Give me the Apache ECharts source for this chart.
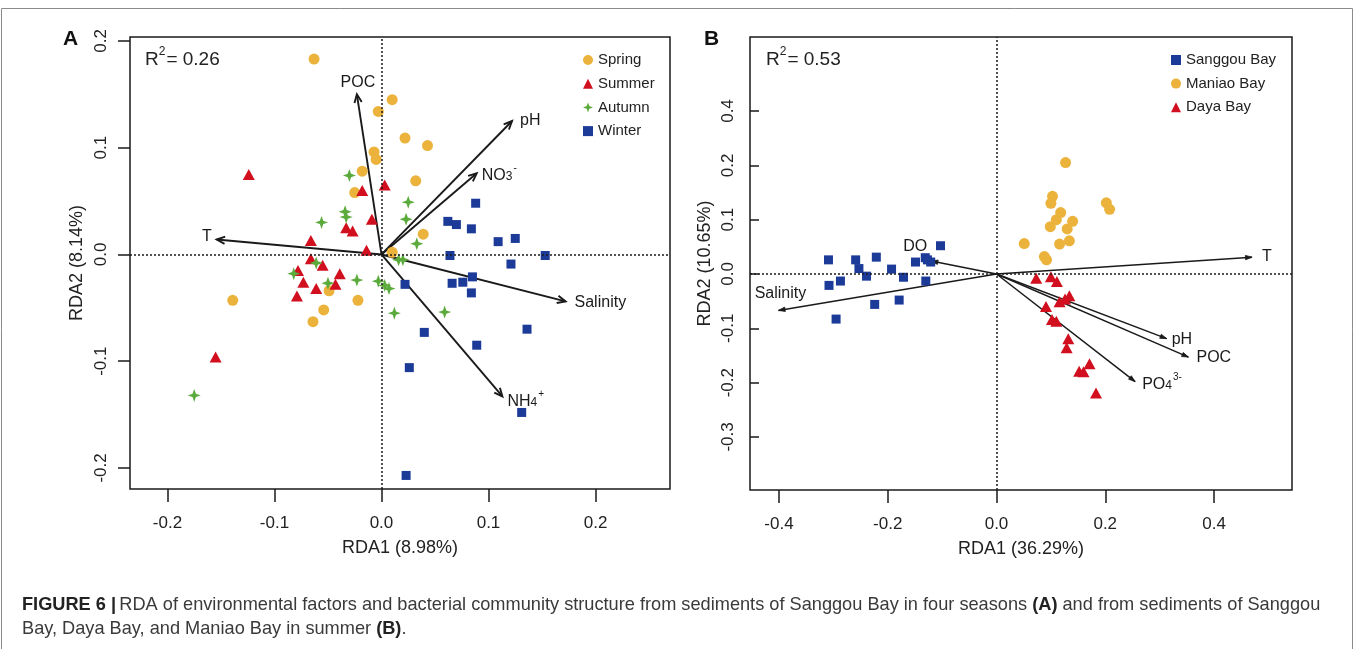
<!DOCTYPE html>
<html>
<head>
<meta charset="utf-8">
<script src="https://cdn.jsdelivr.net/npm/echarts/dist/echarts.min.js"></script>
<style>
  html, body { margin: 0; padding: 0; background: #fff; }
  #main { width: 1355px; height: 649px; }
</style>
</head>
<body>
<div id="main"></div>
<script>
// ---------------- Panel A data (Sanggou Bay, four seasons) ----------------
const springX = [-0.063, -0.003, 0.010, -0.007, -0.005, -0.018, -0.025, 0.022, 0.043, 0.032, 0.039, 0.010, -0.139, -0.049, -0.022, -0.054, -0.064];
const springY = [0.183, 0.134, 0.145, 0.096, 0.089, 0.078, 0.058, 0.109, 0.102, 0.069, 0.019, 0.002, -0.043, -0.034, -0.043, -0.052, -0.063];

const summerX = [-0.124, 0.003, -0.018, -0.009, -0.033, -0.027, -0.066, -0.014, -0.066, -0.078, -0.055, -0.039, -0.073, -0.061, -0.043, -0.079, -0.155];
const summerY = [0.075, 0.065, 0.060, 0.033, 0.025, 0.022, 0.013, 0.004, -0.004, -0.015, -0.010, -0.018, -0.026, -0.032, -0.028, -0.039, -0.096];

const autumnX = [-0.030, -0.034, -0.033, -0.056, 0.025, 0.023, 0.033, 0.016, 0.020, -0.082, -0.061, -0.050, -0.023, -0.003, 0.003, 0.007, 0.012, -0.175, 0.059];
const autumnY = [0.074, 0.040, 0.035, 0.030, 0.049, 0.033, 0.010, -0.005, -0.005, -0.018, -0.008, -0.027, -0.024, -0.025, -0.029, -0.032, -0.055, -0.132, -0.054];

const winterX = [0.088, 0.062, 0.070, 0.084, 0.109, 0.125, 0.064, 0.153, 0.121, 0.085, 0.066, 0.076, 0.084, 0.022, 0.136, 0.040, 0.089, 0.026, 0.131, 0.023];
const winterY = [0.048, 0.031, 0.028, 0.024, 0.012, 0.015, -0.001, -0.001, -0.009, -0.021, -0.027, -0.026, -0.036, -0.028, -0.070, -0.073, -0.085, -0.106, -0.148, -0.207];

const A_vecNames = ['POC', 'T', 'pH', 'NO3', 'Salinity', 'NH4'];
const A_vecX = [-0.023, -0.154, 0.122, 0.089, 0.172, 0.113];
const A_vecY = [0.150, 0.014, 0.125, 0.076, -0.044, -0.133];

const A_xTicks = [-0.2, -0.1, 0, 0.1, 0.2];
const A_yTicks = [-0.2, -0.1, 0, 0.1, 0.2];

// ---------------- Panel B data (three bays, summer) ----------------
const sanggouX = [-0.309, -0.259, -0.221, -0.253, -0.239, -0.193, -0.171, -0.149, -0.131, -0.121, -0.103, -0.130, -0.308, -0.287, -0.224, -0.179, -0.295, -0.127];
const sanggouY = [0.026, 0.026, 0.031, 0.010, -0.004, 0.009, -0.006, 0.022, 0.030, 0.022, 0.052, -0.013, -0.021, -0.013, -0.056, -0.048, -0.083, 0.026];

const maniaoX = [0.127, 0.103, 0.100, 0.118, 0.110, 0.140, 0.099, 0.130, 0.134, 0.116, 0.051, 0.202, 0.208, 0.088, 0.092];
const maniaoY = [0.205, 0.143, 0.130, 0.113, 0.100, 0.097, 0.087, 0.083, 0.061, 0.055, 0.056, 0.131, 0.119, 0.032, 0.026];

const dayaX = [0.073, 0.100, 0.111, 0.134, 0.126, 0.116, 0.091, 0.102, 0.110, 0.132, 0.129, 0.171, 0.152, 0.160, 0.183];
const dayaY = [-0.008, -0.005, -0.014, -0.040, -0.046, -0.051, -0.060, -0.084, -0.087, -0.119, -0.136, -0.165, -0.179, -0.180, -0.219];

const B_vecNames = ['DO', 'T', 'Salinity', 'pH', 'POC', 'PO4'];
const B_vecX = [-0.120, 0.470, -0.401, 0.313, 0.353, 0.255];
const B_vecY = [0.024, 0.031, -0.067, -0.119, -0.153, -0.198];

const B_xTicks = [-0.4, -0.2, 0, 0.2, 0.4];
const B_yTicks = [-0.3, -0.2, -0.1, 0, 0.1, 0.2, 0.3];
const B_yTickLabels = ['-0.3', '-0.2', '-0.1', '0.0', '0.1', '0.2', '0.4'];

// ---------------- styling ----------------
const FONT = "'Liberation Sans', Arial, Helvetica, sans-serif";
const C_ORANGE = '#EBB33C', C_RED = '#D10F1E', C_GREEN = '#5BAA3C', C_BLUE = '#1C3B98';
const INK = '#1a1a1a';
const STAR = 'path://M50,0 L63,37 L100,50 L63,63 L50,100 L37,63 L0,50 L37,37 Z';

const vecText = {
  NO3: '{n|NO}{sub|3}{sup|-}',
  NH4: '{n|NH}{sub|4}{sup|+}',
  PO4: '{n|PO}{sub|4}{sup|3-}'
};
const vecRich = {
  n: { fontSize: 16, fontFamily: FONT, fill: INK, lineHeight: 22, verticalAlign: 'bottom' },
  sub: { fontSize: 12, fontFamily: FONT, fill: INK, lineHeight: 22, verticalAlign: 'bottom', padding: [0, 0, 1, 0] },
  sup: { fontSize: 10, fontFamily: FONT, fill: INK, lineHeight: 22, verticalAlign: 'top', padding: [2, 0, 0, 1] }
};
const labelPosA = {
  POC: { dx: 1, dy: -12, align: 'center' },
  T: { dx: -5, dy: -3, align: 'right' },
  pH: { dx: 8, dy: 0, align: 'left' },
  NO3: { dx: 5, dy: -1, align: 'left' },
  Salinity: { dx: 9, dy: 1, align: 'left' },
  NH4: { dx: 5, dy: 2, align: 'left' }
};
const labelPosB = {
  DO: { dx: -4, dy: -14, align: 'right' },
  T: { dx: 10, dy: -1, align: 'left' },
  Salinity: { dx: 2, dy: -17, align: 'center' },
  pH: { dx: 5, dy: 1, align: 'left' },
  POC: { dx: 8, dy: 0, align: 'left' },
  PO4: { dx: 7, dy: 0, align: 'left' }
};

function arrowRenderer(names, pos, head) {
  return function (params, api) {
    const name = names[params.dataIndex];
    const o = api.coord([0, 0]);
    const t = api.coord([api.value(0), api.value(1)]);
    const ang = Math.atan2(t[1] - o[1], t[0] - o[0]);
    const L = head.len, a = head.angle;
    const p1 = [t[0] - L * Math.cos(ang - a), t[1] - L * Math.sin(ang - a)];
    const p2 = [t[0] - L * Math.cos(ang + a), t[1] - L * Math.sin(ang + a)];
    const c = pos[name];
    const headEl = head.filled
      ? { type: 'polygon', shape: { points: [p1, t, p2] }, style: { fill: INK, stroke: INK, lineWidth: 0.8 } }
      : { type: 'polyline', shape: { points: [p1, t, p2] }, style: { stroke: INK, lineWidth: head.lw, fill: null } };
    return {
      type: 'group',
      children: [
        { type: 'line', shape: { x1: o[0], y1: o[1], x2: t[0], y2: t[1] }, style: { stroke: INK, lineWidth: head.lw } },
        headEl,
        {
          type: 'text', x: t[0] + c.dx, y: t[1] + c.dy,
          style: {
            text: vecText[name] || name, rich: vecRich,
            fill: INK, fontSize: 16, fontFamily: FONT,
            align: c.align, verticalAlign: 'middle'
          }
        }
      ]
    };
  };
}

function pairs(xs, ys) { return xs.map((x, i) => [x, ys[i]]); }
function fmt(v) { return Math.abs(v) < 1e-9 ? '0.0' : v.toFixed(1); }

const zeroLines = {
  silent: true, symbol: ['none', 'none'], label: { show: false },
  lineStyle: { type: [2, 2], color: INK, width: 1.5 },
  emphasis: { disabled: true },
  data: [{ xAxis: 0 }, { yAxis: 0 }]
};

function xAxisCfg(idx, min, max, ticks, name) {
  return {
    gridIndex: idx, type: 'value', min: min, max: max, position: 'bottom',
    axisLine: { show: false, onZero: false }, splitLine: { show: false },
    axisTick: { show: true, customValues: ticks, length: 13, lineStyle: { color: INK, width: 1.5 } },
    axisLabel: { customValues: ticks, formatter: fmt, fontSize: 17, color: '#222', fontFamily: FONT, margin: 26 },
    name: name, nameLocation: 'middle', nameGap: 50,
    nameTextStyle: { fontSize: 18, color: '#222', fontFamily: FONT }
  };
}

const chart = echarts.init(document.getElementById('main'), null, { renderer: 'canvas' });

const option = {
  animation: false,
  backgroundColor: '#fff',
  textStyle: { fontFamily: FONT },
  grid: [
    { left: 130, top: 37, width: 540, height: 452, show: true, borderColor: INK, borderWidth: 1.5, backgroundColor: 'transparent' },
    { left: 750, top: 37, width: 542, height: 453, show: true, borderColor: INK, borderWidth: 1.5, backgroundColor: 'transparent' }
  ],
  xAxis: [
    xAxisCfg(0, -0.235, 0.2696, A_xTicks, 'RDA1 (8.98%)'),
    xAxisCfg(1, -0.4533, 0.5434, B_xTicks, 'RDA1 (36.29%)')
  ],
  yAxis: [
    {
      gridIndex: 0, type: 'value', min: -0.2197, max: 0.2037, position: 'left',
      axisLine: { show: false, onZero: false }, splitLine: { show: false },
      axisTick: { show: true, customValues: A_yTicks, length: 12, lineStyle: { color: INK, width: 1.5 } },
      axisLabel: { customValues: A_yTicks, formatter: fmt, rotate: 90, fontSize: 17, color: '#222', fontFamily: FONT, margin: 20 },
      name: 'RDA2 (8.14%)', nameLocation: 'middle', nameRotate: 90, nameGap: 44,
      nameTextStyle: { fontSize: 18, color: '#222', fontFamily: FONT }
    },
    {
      gridIndex: 1, type: 'value', min: -0.3976, max: 0.4362, position: 'left',
      axisLine: { show: false, onZero: false }, splitLine: { show: false },
      axisTick: { show: true, inside: true, customValues: B_yTicks, length: 9, lineStyle: { color: INK, width: 1.5 } },
      axisLabel: {
        customValues: B_yTicks, rotate: 90, fontSize: 17, color: '#222', fontFamily: FONT, margin: 13,
        formatter: function (v) {
          const i = B_yTicks.findIndex(t => Math.abs(t - v) < 1e-9);
          return i >= 0 ? B_yTickLabels[i] : '';
        }
      },
      name: 'RDA2 (10.65%)', nameLocation: 'middle', nameRotate: 90, nameGap: 36,
      nameTextStyle: { fontSize: 18, color: '#222', fontFamily: FONT }
    }
  ],
  legend: [
    {
      data: ['Spring', 'Summer', 'Autumn', 'Winter'], orient: 'vertical', left: 578, top: 47,
      itemWidth: 10, itemHeight: 10, itemGap: 7.7, selectedMode: false,
      textStyle: { fontSize: 15, color: '#222', fontFamily: FONT, lineHeight: 16 }
    },
    {
      data: ['Sanggou Bay', 'Maniao Bay', 'Daya Bay'], orient: 'vertical', left: 1166, top: 47,
      itemWidth: 10, itemHeight: 10, itemGap: 7.6, selectedMode: false,
      textStyle: { fontSize: 15, color: '#222', fontFamily: FONT, lineHeight: 16 }
    }
  ],
  series: [
    {
      type: 'custom', name: 'vecA', xAxisIndex: 0, yAxisIndex: 0, z: 2, silent: true,
      renderItem: arrowRenderer(A_vecNames, labelPosA, { len: 9, angle: 0.42, lw: 1.9, filled: false }),
      encode: { x: 0, y: 1 },
      data: A_vecX.map((x, i) => [x, A_vecY[i]]),
      markLine: zeroLines
    },
    {
      type: 'custom', name: 'vecB', xAxisIndex: 1, yAxisIndex: 1, z: 2, silent: true,
      renderItem: arrowRenderer(B_vecNames, labelPosB, { len: 7, angle: 0.32, lw: 1.5, filled: true }),
      encode: { x: 0, y: 1 },
      data: B_vecX.map((x, i) => [x, B_vecY[i]]),
      markLine: zeroLines
    },
    { type: 'scatter', name: 'Spring', xAxisIndex: 0, yAxisIndex: 0, z: 4, symbol: 'circle', symbolSize: 11, itemStyle: { color: C_ORANGE, opacity: 1 }, data: pairs(springX, springY) },
    { type: 'scatter', name: 'Summer', xAxisIndex: 0, yAxisIndex: 0, z: 4, symbol: 'triangle', symbolSize: [12, 11], itemStyle: { color: C_RED, opacity: 1 }, data: pairs(summerX, summerY) },
    { type: 'scatter', name: 'Autumn', xAxisIndex: 0, yAxisIndex: 0, z: 4, symbol: STAR, symbolSize: 13, itemStyle: { color: C_GREEN, opacity: 1 }, data: pairs(autumnX, autumnY) },
    { type: 'scatter', name: 'Winter', xAxisIndex: 0, yAxisIndex: 0, z: 4, symbol: 'rect', symbolSize: 9, itemStyle: { color: C_BLUE, opacity: 1 }, data: pairs(winterX, winterY) },
    { type: 'scatter', name: 'Sanggou Bay', xAxisIndex: 1, yAxisIndex: 1, z: 4, symbol: 'rect', symbolSize: 9, itemStyle: { color: C_BLUE, opacity: 1 }, data: pairs(sanggouX, sanggouY) },
    { type: 'scatter', name: 'Maniao Bay', xAxisIndex: 1, yAxisIndex: 1, z: 4, symbol: 'circle', symbolSize: 11, itemStyle: { color: C_ORANGE, opacity: 1 }, data: pairs(maniaoX, maniaoY) },
    { type: 'scatter', name: 'Daya Bay', xAxisIndex: 1, yAxisIndex: 1, z: 4, symbol: 'triangle', symbolSize: [12, 11], itemStyle: { color: C_RED, opacity: 1 }, data: pairs(dayaX, dayaY) }
  ],
  graphic: [
    { type: 'rect', silent: true, z: 0, shape: { x: 1.5, y: 8.5, width: 1351, height: 660 }, style: { fill: null, stroke: '#8a8a8a', lineWidth: 1 } },
    { type: 'text', left: 63, top: 29, style: { text: 'A', fontSize: 21, fontWeight: 'bold', fill: '#111', fontFamily: FONT } },
    { type: 'text', left: 704, top: 29, style: { text: 'B', fontSize: 21, fontWeight: 'bold', fill: '#111', fontFamily: FONT } },
    {
      type: 'text', left: 145, top: 46,
      style: {
        text: '{r|R}{s|2}{r|= 0.26}', fontFamily: FONT,
        rich: { r: { fontSize: 19, fill: '#222', lineHeight: 23, verticalAlign: 'bottom' }, s: { fontSize: 12, fill: '#222', lineHeight: 23, verticalAlign: 'top', padding: [0, 1, 0, 0] } }
      }
    },
    {
      type: 'text', left: 766, top: 46,
      style: {
        text: '{r|R}{s|2}{r|= 0.53}', fontFamily: FONT,
        rich: { r: { fontSize: 19, fill: '#222', lineHeight: 23, verticalAlign: 'bottom' }, s: { fontSize: 12, fill: '#222', lineHeight: 23, verticalAlign: 'top', padding: [0, 1, 0, 0] } }
      }
    },
    {
      type: 'text', left: 22, top: 596,
      style: {
        text: '{b|FIGURE 6 |} {t|RDA of environmental factors and bacterial community structure from sediments of Sanggou Bay in four seasons }{b|(A)}{t| and from sediments of Sanggou}',
        rich: {
          b: { fontSize: 18.2, fontWeight: 'bold', fill: '#222', fontFamily: FONT },
          t: { fontSize: 18.2, fill: '#3a3a3a', fontFamily: FONT }
        }
      }
    },
    {
      type: 'text', left: 22, top: 620,
      style: {
        text: '{t|Bay, Daya Bay, and Maniao Bay in summer }{b|(B)}{t|.}',
        rich: {
          b: { fontSize: 18.2, fontWeight: 'bold', fill: '#222', fontFamily: FONT },
          t: { fontSize: 18.2, fill: '#3a3a3a', fontFamily: FONT }
        }
      }
    }
  ]
};

chart.setOption(option);
</script>
</body>
</html>
